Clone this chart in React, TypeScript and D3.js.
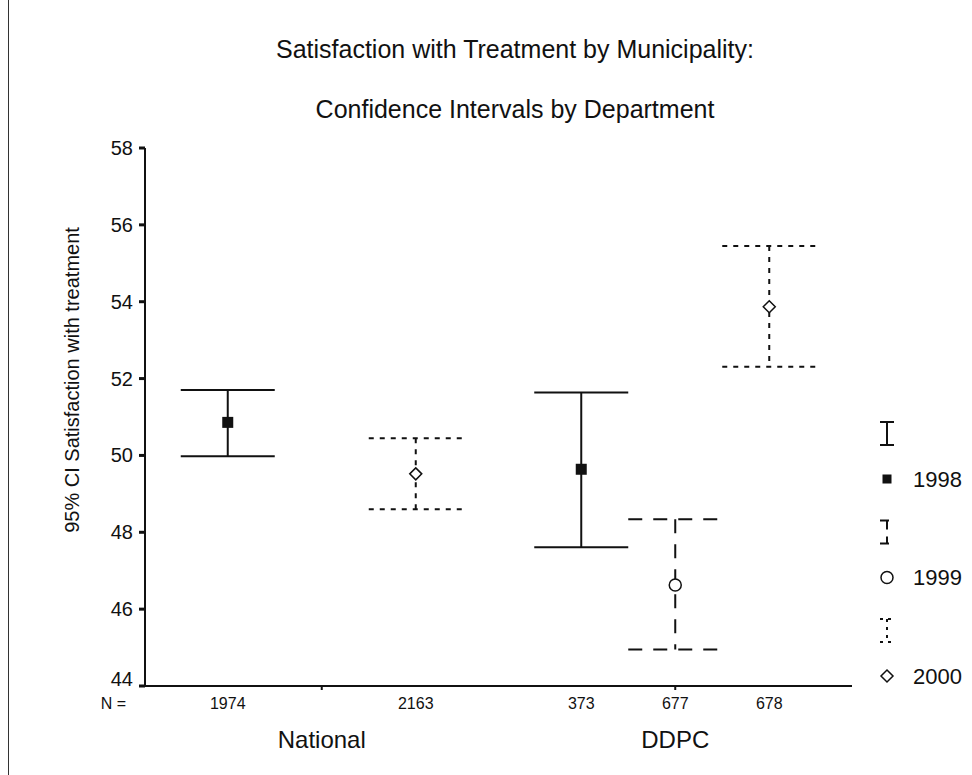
import React from "react";
import * as d3 from "d3";

// values
const groups = ["National", "DDPC"];
const years = ["1998", "1999", "2000"];

const pointGroup = ["National", "National", "DDPC", "DDPC", "DDPC"];
const pointYear = ["1998", "2000", "1998", "1999", "2000"];
const means = [50.86, 49.52, 49.64, 46.63, 53.87];
const lowers = [49.98, 48.6, 47.61, 44.95, 52.31];
const uppers = [51.7, 50.45, 51.64, 48.34, 55.45];
const counts = [1974, 2163, 373, 677, 678];

const yTicks = [44, 46, 48, 50, 52, 54, 56, 58];

const font = "'Liberation Sans', Arial, sans-serif";
const ink = "#111";

const dashFor: Record<string, string | undefined> = {
  "1998": undefined,
  "1999": "14,11",
  "2000": "5,6",
};

const Marker: React.FC<{ year: string; cx: number; cy: number }> = ({
  year,
  cx,
  cy,
}) => {
  if (year === "1998")
    return <rect x={cx - 4.5} y={cy - 4.5} width={9} height={9} fill={ink} />;
  if (year === "1999")
    return (
      <circle cx={cx} cy={cy} r={6} fill="#fff" stroke={ink} strokeWidth={1.5} />
    );
  const d = 6;
  return (
    <path
      d={`M${cx},${cy - d}L${cx + d},${cy}L${cx},${cy + d}L${cx - d},${cy}Z`}
      fill="#fff"
      stroke={ink}
      strokeWidth={1.5}
    />
  );
};

const App: React.FC = () => {
  const margin = { left: 145, right: 852, top: 148, bottom: 686 };

  const y = d3
    .scaleLinear()
    .domain([44, 58])
    .range([margin.bottom, margin.top]);
  const xGroup = d3
    .scaleBand<string>()
    .domain(groups)
    .range([margin.left, margin.right]);
  const xYear = d3.scaleBand<string>().domain(years).range([-141, 141]);
  const bw = xYear.bandwidth();

  const px = (i: number) =>
    (xGroup(pointGroup[i]) ?? 0) +
    xGroup.bandwidth() / 2 +
    (xYear(pointYear[i]) ?? 0) +
    bw / 2;

  // legend
  const legendX = 887;
  const legendY = d3.scalePoint<string>().domain(years).range([433, 630]);

  return (
    <div style={{ position: "absolute", left: 0, top: 0 }}>
      <svg width={972} height={775} style={{ display: "block" }}>
        <rect width={972} height={775} fill="#fff" />
        <line x1={8.5} x2={8.5} y1={0} y2={775} stroke="#333" strokeWidth={1} />

        <text
          x={515}
          y={58}
          textAnchor="middle"
          fontFamily={font}
          fontSize={25}
          fill={ink}
        >
          Satisfaction with Treatment by Municipality:
        </text>
        <text
          x={515}
          y={118}
          textAnchor="middle"
          fontFamily={font}
          fontSize={25}
          fill={ink}
        >
          Confidence Intervals by Department
        </text>

        {/* y axis */}
        <line
          x1={margin.left}
          x2={margin.left}
          y1={margin.top}
          y2={margin.bottom}
          stroke={ink}
          strokeWidth={2}
        />
        {yTicks.map((t, i) => (
          <g key={t}>
            <line
              x1={margin.left - 6}
              x2={margin.left}
              y1={y(t)}
              y2={y(t)}
              stroke={ink}
              strokeWidth={3}
            />
            <text
              x={margin.left - 12}
              y={y(t)}
              dy={i === 0 ? "0em" : "0.35em"}
              textAnchor="end"
              fontFamily={font}
              fontSize={20}
              fill={ink}
            >
              {t}
            </text>
          </g>
        ))}
        <text
          transform="translate(79,380) rotate(-90)"
          textAnchor="middle"
          fontFamily={font}
          fontSize={20}
          fill={ink}
        >
          95% CI Satisfaction with treatment
        </text>

        {/* x axis */}
        <line
          x1={margin.left - 1}
          x2={margin.right}
          y1={margin.bottom}
          y2={margin.bottom}
          stroke={ink}
          strokeWidth={2}
        />
        {groups.map((g) => {
          const cx = (xGroup(g) ?? 0) + xGroup.bandwidth() / 2;
          return (
            <g key={g}>
              <line
                x1={cx}
                x2={cx}
                y1={margin.bottom}
                y2={margin.bottom + 4}
                stroke={ink}
                strokeWidth={2}
              />
              <text
                x={cx}
                y={748}
                textAnchor="middle"
                fontFamily={font}
                fontSize={24}
                fill={ink}
              >
                {g}
              </text>
            </g>
          );
        })}
        <text
          x={126}
          y={709}
          textAnchor="end"
          fontFamily={font}
          fontSize={16}
          fill={ink}
        >
          N =
        </text>
        {counts.map((n, i) => (
          <text
            key={i}
            x={px(i)}
            y={709}
            textAnchor="middle"
            fontFamily={font}
            fontSize={16}
            fill={ink}
          >
            {n}
          </text>
        ))}

        {/* error bars */}
        {means.map((m, i) => {
          const cx = px(i);
          const dash = dashFor[pointYear[i]];
          const yr = pointYear[i];
          return (
            <g key={i} stroke={ink} strokeWidth={2} strokeDasharray={dash}>
              <line x1={cx - bw / 2} x2={cx + bw / 2} y1={y(uppers[i])} y2={y(uppers[i])} />
              <line x1={cx - bw / 2} x2={cx + bw / 2} y1={y(lowers[i])} y2={y(lowers[i])} />
              <line x1={cx} x2={cx} y1={y(uppers[i])} y2={y(lowers[i])} />
              <g strokeDasharray="none">
                <Marker year={yr} cx={cx} cy={y(m)} />
              </g>
            </g>
          );
        })}

        {/* legend */}
        {years.map((yr) => {
          const ly = legendY(yr) ?? 0;
          const dash = yr === "1998" ? undefined : yr === "1999" ? "9,7" : "3,5";
          return (
            <g key={yr}>
              <g stroke={ink} strokeWidth={2} strokeDasharray={dash}>
                <line x1={legendX - 7} x2={legendX + 7} y1={ly - 11} y2={ly - 11} />
                <line x1={legendX} x2={legendX} y1={ly - 11} y2={ly + 12} />
                <line x1={legendX - 7} x2={legendX + 7} y1={ly + 12} y2={ly + 12} />
              </g>
              <Marker year={yr} cx={legendX} cy={ly + 46} />
              <text
                x={913}
                y={ly + 46}
                dy="0.35em"
                fontFamily={font}
                fontSize={22}
                fill={ink}
              >
                {yr}
              </text>
            </g>
          );
        })}
      </svg>
    </div>
  );
};

export default App;
